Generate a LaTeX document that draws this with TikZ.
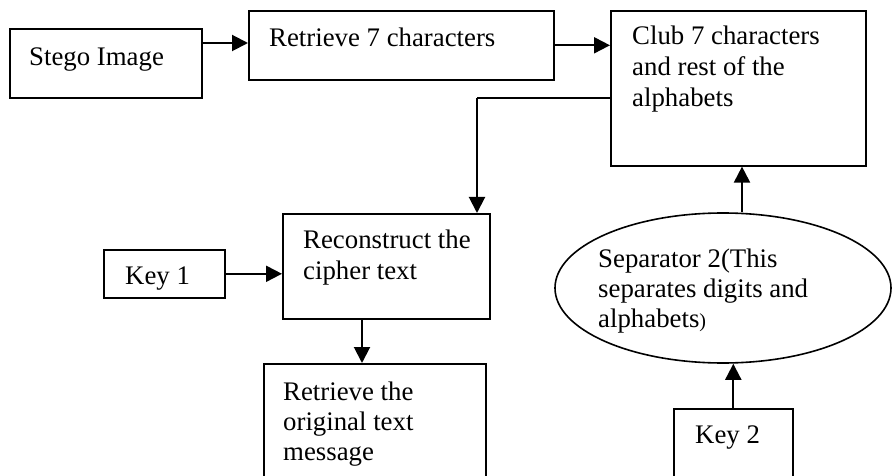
\documentclass[tikz,border=0pt]{standalone}
\usepackage{fontspec}
\setmainfont{Liberation Serif}
\usetikzlibrary{arrows.meta,shapes.geometric}
\begin{document}
\begin{tikzpicture}[x=1pt,y=-1pt,
  box/.style={draw,line width=1.6pt,rectangle,inner sep=0pt,anchor=north west},
  oval/.style={draw,line width=1.6pt,ellipse,inner sep=0pt},
  lbl/.style={anchor=base west,inner sep=0pt,font=\fontsize{26.8}{30}\selectfont},
  arr/.style={line width=2pt,-{Triangle[length=16pt,width=16pt]}}]
\clip (0,0) rectangle (892,476);
\fill[white] (0,0) rectangle (892,476);
% boxes
\node[box,minimum width=192pt,minimum height=69pt] (stego) at (9,28) {};
\node[box,minimum width=305pt,minimum height=69pt] (ret) at (248,10) {};
\node[box,minimum width=255pt,minimum height=155pt] (club) at (610,10) {};
\node[box,minimum width=207pt,minimum height=105pt] (recon) at (282,213) {};
\node[box,minimum width=121pt,minimum height=48pt] (key1) at (103,249) {};
\node[box,minimum width=222pt,minimum height=130pt] (orig) at (263,363) {};
\node[box,minimum width=119pt,minimum height=90pt] (key2) at (673,408) {};
\node[oval,minimum width=336pt,minimum height=150pt] (sep) at (723,288) {};
% texts
\node[lbl] (tstego) at (29,66) {Stego Image};
\node[lbl] (tret) at (269,47) {Retrieve 7 characters};
\node[lbl] (tclub1) at (632,45) {Club 7 characters};
\node[lbl] (tclub2) at (632,76) {and rest of the};
\node[lbl] (tclub3) at (632,107) {alphabets};
\node[lbl] (trec1) at (303,248) {Reconstruct the};
\node[lbl] (trec2) at (303,279) {cipher text};
\node[lbl] (tkey1) at (125,284) {Key 1};
\node[lbl] (torig1) at (283,400) {Retrieve the};
\node[lbl] (torig2) at (283,430) {original text};
\node[lbl] (torig3) at (283,460) {message};
\node[lbl] (tsep1) at (598,267) {Separator 2(This};
\node[lbl] (tsep2) at (598,297) {separates digits and};
\node[lbl] (tsep3) at (598,327) {alphabets{\fontsize{20}{20}\selectfont)}};
\node[lbl] (tkey2) at (695,443) {Key 2};
% helper coordinates
\coordinate (y43) at (0,43);
\coordinate (y98) at (0,98);
\coordinate (x477) at (477,0);
\coordinate (x362) at (362,0);
\coordinate (x742) at (742,0);
% connectors
\draw[arr] (stego.east |- y43) -- (ret.west |- y43);
\draw[arr] (ret.east) -- (club.west |- ret.east);
\draw[line width=2pt] (club.west |- y98) -- (x477 |- y98);
\draw[arr] (x477 |- y98) -- (recon.north -| x477);
\draw[arr] (key1.east) -- (recon.west |- key1.east);
\draw[arr] (recon.south -| x362) -- (orig.north -| x362);
\draw[arr] (sep.north -| x742) -- (club.south -| x742);
\draw[arr] (key2.north) -- (key2.north |- sep.south);
\end{tikzpicture}
\end{document}
